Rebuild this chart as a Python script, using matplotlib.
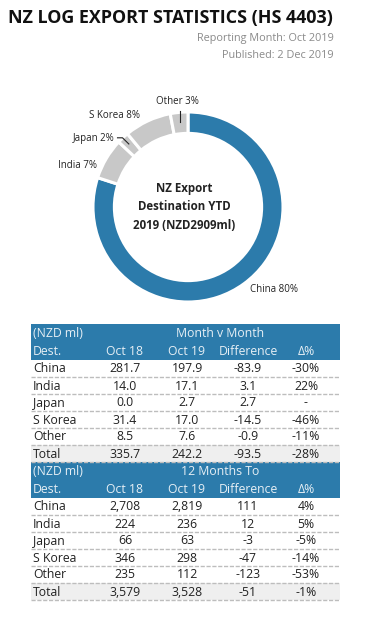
import numpy as np
import matplotlib
matplotlib.use("Agg")
import matplotlib.pyplot as plt
from matplotlib.patches import Rectangle

plt.rcParams['font.family'] = ['Open Sans', 'DejaVu Sans']

# ---------------- data ----------------
title = "NZ LOG EXPORT STATISTICS (HS 4403)"
subtitle1 = "Reporting Month: Oct 2019"
subtitle2 = "Published: 2 Dec 2019"

donut_labels = ["China", "India", "Japan", "S Korea", "Other"]
donut_pct = [80, 7, 2, 8, 3]
donut_center = "NZ Export\nDestination YTD\n2019 (NZD2909ml)"

dest = ["China", "India", "Japan", "S Korea", "Other", "Total"]
col_heads = ["Dest.", "Oct 18", "Oct 19", "Difference", "Δ%"]

mvm_title = "Month v Month"
mvm_oct18 = ["281.7", "14.0", "0.0", "31.4", "8.5", "335.7"]
mvm_oct19 = ["197.9", "17.1", "2.7", "17.0", "7.6", "242.2"]
mvm_diff = ["-83.9", "3.1", "2.7", "-14.5", "-0.9", "-93.5"]
mvm_pct = ["-30%", "22%", "-", "-46%", "-11%", "-28%"]

ytd_title = "12 Months To"
ytd_oct18 = ["2,708", "224", "66", "346", "235", "3,579"]
ytd_oct19 = ["2,819", "236", "63", "298", "112", "3,528"]
ytd_diff = ["111", "12", "-3", "-47", "-123", "-51"]
ytd_pct = ["4%", "5%", "-5%", "-14%", "-53%", "-1%"]

# ---------------- style ----------------
W, H = 370, 619
BLUE = "#2c7bab"
GREY = "#c8c8c8"
TXT = "#222222"
HDR_TXT = "#e6eff5"

fig = plt.figure(figsize=(W / 100, H / 100), dpi=100)
fig.patch.set_facecolor("white")

# ---------------- donut ----------------
cx, cy, R = 188, 207, 95
dax = fig.add_axes([(cx - R) / W, 1 - (cy + R) / H, 2 * R / W, 2 * R / H])
colors = [BLUE] + [GREY] * (len(donut_pct) - 1)
wedges, _ = dax.pie(donut_pct, colors=colors, startangle=90, counterclock=False,
                    radius=1, wedgeprops=dict(width=0.225, edgecolor="white", linewidth=2.2))
dax.set_xlim(-1, 1)
dax.set_ylim(-1, 1)
dax.set_aspect("equal")
dax.axis("off")
dax.text(-0.04, 0.0, donut_center, ha="center", va="center", fontsize=8.3,
         fontweight="bold", color="#222222", linespacing=1.55)

# overlay axes in pixel coordinates (on top of donut)
ax = fig.add_axes([0, 0, 1, 1])
ax.set_xlim(0, W)
ax.set_ylim(H, 0)
ax.axis("off")

ax.text(8, 18, title, fontsize=12.9, fontweight="bold", color="#111111",
        ha="left", va="center")
ax.text(334, 39, subtitle1, fontsize=7.8, color="#8a8a8a", ha="right", va="center")
ax.text(334, 56, subtitle2, fontsize=7.8, color="#8a8a8a", ha="right", va="center")

def wpoint(w, r):
    ang = np.deg2rad((w.theta1 + w.theta2) / 2)
    return cx + r * R * np.cos(ang), cy - r * R * np.sin(ang)

lab_fs = 7
# China
ax.text(250, 289, f"{donut_labels[0]} {donut_pct[0]}%", fontsize=lab_fs, color=TXT,
        ha="left", va="center")
# India
ax.text(97, 166, f"{donut_labels[1]} {donut_pct[1]}%", fontsize=lab_fs, color=TXT,
        ha="right", va="center")
# Japan with leader
ax.text(115, 139, f"{donut_labels[2]} {donut_pct[2]}%", fontsize=lab_fs, color=TXT,
        ha="right", va="center")
jx, jy = wpoint(wedges[2], 0.91)
ax.plot([117.5, 122.5, jx], [137.8, 137.8, jy], color="#222222", lw=0.8)
# S Korea
ax.text(140, 115, f"{donut_labels[3]} {donut_pct[3]}%", fontsize=lab_fs, color=TXT,
        ha="right", va="center")
# Other with leader
ax.text(177, 101, f"{donut_labels[4]} {donut_pct[4]}%", fontsize=lab_fs, color=TXT,
        ha="center", va="center")
ox, oy = wpoint(wedges[4], 0.9)
ax.plot([ox, ox], [111, oy], color="#222222", lw=0.8)

# ---------------- tables ----------------
TL, TR = 31, 340
col_x = [33, 125, 187, 248, 306]
HROW, DROW = 18, 17
tfs = 8.8

def draw_table(top, span_title, c18, c19, cdiff, cpct):
    # header
    ax.add_patch(Rectangle((TL, top), TR - TL, 2 * HROW, facecolor=BLUE, edgecolor="none"))
    ax.text(col_x[0], top + HROW / 2 + 0.5, "(NZD ml)", fontsize=tfs, color=HDR_TXT,
            ha="left", va="center")
    ax.text(220, top + HROW / 2 + 0.5, span_title, fontsize=tfs, color=HDR_TXT,
            ha="center", va="center")
    y = top + HROW * 1.5 + 0.5
    ax.text(col_x[0], y, col_heads[0], fontsize=tfs, color=HDR_TXT, ha="left", va="center")
    for i in range(1, 5):
        ax.text(col_x[i], y, col_heads[i], fontsize=tfs, color=HDR_TXT, ha="center", va="center")
    # data
    ytop = top + 2 * HROW
    for r, name in enumerate(dest):
        y0 = ytop + r * DROW
        if name == "Total":
            ax.add_patch(Rectangle((TL, y0), TR - TL, DROW, facecolor="#efefef",
                                   edgecolor="none"))
        yc = y0 + DROW / 2 + 0.5
        ax.text(col_x[0], yc, name, fontsize=tfs, color=TXT, ha="left", va="center")
        vals = [c18[r], c19[r], cdiff[r], cpct[r]]
        for i, v in enumerate(vals, start=1):
            ax.text(col_x[i], yc, v, fontsize=tfs, color=TXT, ha="center", va="center")
        ax.plot([TL, TR], [y0 + DROW, y0 + DROW], color="#bdbdbd", lw=1.0,
                ls=(0, (3, 1.2)))

draw_table(324, mvm_title, mvm_oct18, mvm_oct19, mvm_diff, mvm_pct)
draw_table(462, ytd_title, ytd_oct18, ytd_oct19, ytd_diff, ytd_pct)

fig.savefig("out.png", dpi=100, facecolor="white")
